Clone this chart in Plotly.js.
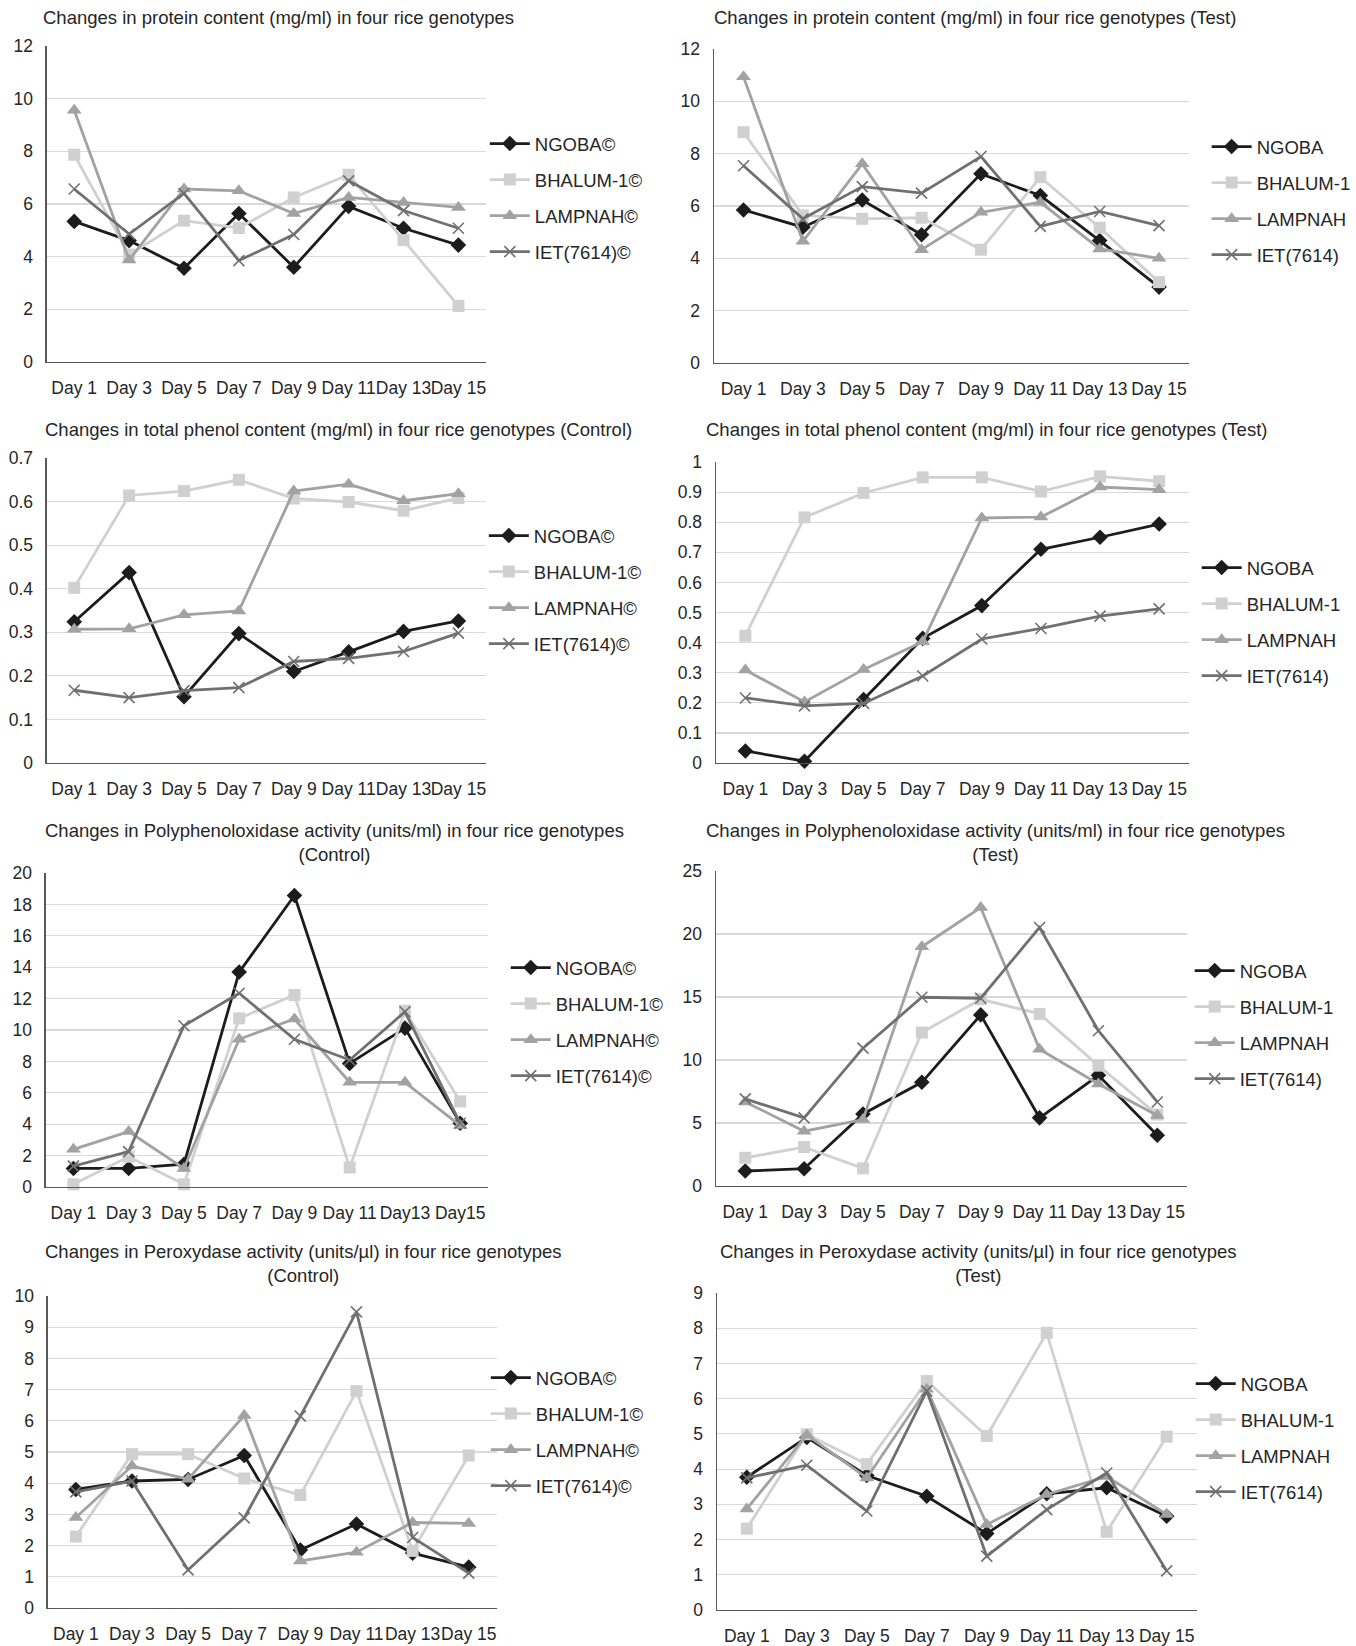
<!DOCTYPE html>
<html>
<head>
<meta charset="utf-8">
<script src="https://cdn.plot.ly/plotly-3.0.1.min.js"></script>
<style>html,body{margin:0;padding:0;background:#fff;}#chart{width:1356px;height:1646px;}</style>
</head>
<body>
<div id="chart"></div>
<script>
// ---------- DATA ----------
const days = ["Day 1","Day 3","Day 5","Day 7","Day 9","Day 11","Day 13","Day 15"];
const daysPPOControl = ["Day 1","Day 3","Day 5","Day 7","Day 9","Day 11","Day13","Day15"];
const namesControl = ["NGOBA©","BHALUM-1©","LAMPNAH©","IET(7614)©"];
const namesTest = ["NGOBA","BHALUM-1","LAMPNAH","IET(7614)"];

const titleProtC = "Changes in protein content (mg/ml) in four rice genotypes";
const titleProtT = "Changes in protein content (mg/ml) in four rice genotypes (Test)";
const titlePhenC = "Changes in total phenol content (mg/ml) in four rice genotypes (Control)";
const titlePhenT = "Changes in total phenol content (mg/ml) in four rice genotypes (Test)";
const titlePPOC = "Changes in Polyphenoloxidase activity (units/ml) in four rice genotypes<br>(Control)";
const titlePPOT = "Changes in Polyphenoloxidase activity (units/ml) in four rice genotypes<br>(Test)";
const titlePODC = "Changes in Peroxydase activity (units/µl) in four rice genotypes<br>(Control)";
const titlePODT = "Changes in Peroxydase activity (units/µl) in four rice genotypes<br>(Test)";

// Protein content – control
const protC_NGOBA   = [5.34,4.61,3.56,5.64,3.60,5.91,5.08,4.44];
const protC_BHALUM  = [7.87,4.08,5.37,5.09,6.25,7.11,4.63,2.13];
const protC_LAMPNAH = [9.56,3.87,6.57,6.50,5.64,6.25,6.06,5.87];
const protC_IET     = [6.57,4.86,6.40,3.85,4.84,6.88,5.75,5.08];
// Protein content – test
const protT_NGOBA   = [5.85,5.19,6.23,4.90,7.23,6.40,4.68,2.90];
const protT_BHALUM  = [8.82,5.64,5.51,5.55,4.33,7.10,5.17,3.09];
const protT_LAMPNAH = [10.94,4.65,7.61,4.33,5.76,6.14,4.36,4.00];
const protT_IET     = [7.54,5.51,6.74,6.49,7.89,5.22,5.79,5.25];
// Total phenol – control
const phenC_NGOBA   = [0.324,0.437,0.152,0.297,0.210,0.255,0.302,0.326];
const phenC_BHALUM  = [0.402,0.614,0.624,0.650,0.607,0.599,0.579,0.608];
const phenC_LAMPNAH = [0.307,0.308,0.340,0.349,0.624,0.640,0.602,0.618];
const phenC_IET     = [0.167,0.150,0.166,0.173,0.233,0.240,0.256,0.298];
// Total phenol – test
const phenT_NGOBA   = [0.040,0.006,0.211,0.414,0.523,0.710,0.750,0.794];
const phenT_BHALUM  = [0.423,0.816,0.897,0.949,0.949,0.902,0.952,0.936];
const phenT_LAMPNAH = [0.309,0.203,0.311,0.403,0.814,0.817,0.917,0.908];
const phenT_IET     = [0.216,0.190,0.198,0.289,0.412,0.447,0.488,0.512];
// Polyphenoloxidase – control
const ppoC_NGOBA   = [1.18,1.18,1.45,13.69,18.57,7.87,10.12,4.06];
const ppoC_BHALUM  = [0.17,1.93,0.17,10.74,12.23,1.24,11.23,5.45];
const ppoC_LAMPNAH = [2.40,3.53,1.18,9.41,10.70,6.67,6.67,3.91];
const ppoC_IET     = [1.33,2.25,10.27,12.34,9.41,8.09,11.16,4.06];
// Polyphenoloxidase – test
const ppoT_NGOBA   = [1.19,1.37,5.72,8.23,13.58,5.41,8.78,4.03];
const ppoT_BHALUM  = [2.24,3.09,1.40,12.18,14.82,13.66,9.55,5.67];
const ppoT_LAMPNAH = [6.67,4.35,5.27,18.99,22.10,10.86,8.10,5.59];
const ppoT_IET     = [6.91,5.41,10.94,14.98,14.90,20.52,12.32,6.67];
// Peroxydase – control
const podC_NGOBA   = [3.80,4.07,4.12,4.89,1.86,2.69,1.76,1.31];
const podC_BHALUM  = [2.29,4.93,4.93,4.15,3.62,6.95,1.83,4.89];
const podC_LAMPNAH = [2.90,4.55,4.13,6.17,1.51,1.79,2.74,2.71];
const podC_IET     = [3.72,4.07,1.22,2.89,6.15,9.49,2.26,1.12];
// Peroxydase – test
const podT_NGOBA   = [3.77,4.90,3.82,3.23,2.17,3.30,3.47,2.66];
const podT_BHALUM  = [2.31,4.99,4.14,6.50,4.94,7.87,2.22,4.92];
const podT_LAMPNAH = [2.87,4.97,3.75,6.27,2.43,3.28,3.79,2.71];
const podT_IET     = [3.75,4.11,2.81,6.22,1.53,2.85,3.89,1.11];

// ---------- LAYOUT HELPERS ----------
const W = 1356, H = 1646;
const px = x => x / W;
const py = y => 1 - y / H;
const FONT = "Liberation Sans, Arial, sans-serif";
const TXT = "#262626";

const styles = [
  {color:"#1c1c1c", symbol:"diamond", size:12, lw:2.8, mline:0},
  {color:"#d0d0d0", symbol:"square", size:12, lw:2.8, mline:0},
  {color:"#a2a2a2", symbol:"triangle-up", size:13, lw:2.8, mline:0},
  {color:"#707070", symbol:"x-thin-open", size:11, lw:2.8, mline:1.6}
];

const panels = [
  {cats:days, names:namesControl, title:titleProtC, series:[protC_NGOBA,protC_BHALUM,protC_LAMPNAH,protC_IET],
   x0:47,x1:488,y0:46,y1:362, ymax:12, dtick:2, tx:280, ty:18, lx:487, ly:125},
  {cats:days, names:namesTest, title:titleProtT, series:[protT_NGOBA,protT_BHALUM,protT_LAMPNAH,protT_IET],
   x0:717,x1:1194,y0:49,y1:363, ymax:12, dtick:2, tx:979, ty:18, lx:1212, ly:128},
  {cats:days, names:namesControl, title:titlePhenC, series:[phenC_NGOBA,phenC_BHALUM,phenC_LAMPNAH,phenC_IET],
   x0:47,x1:488,y0:458,y1:763, ymax:0.7, dtick:0.1, tx:340, ty:429, lx:486, ly:517},
  {cats:days, names:namesTest, title:titlePhenT, series:[phenT_NGOBA,phenT_BHALUM,phenT_LAMPNAH,phenT_IET],
   x0:719,x1:1194,y0:462,y1:763, ymax:1, dtick:0.1, tx:991, ty:429, lx:1202, ly:549},
  {cats:daysPPOControl, names:namesControl, title:titlePPOC, series:[ppoC_NGOBA,ppoC_BHALUM,ppoC_LAMPNAH,ppoC_IET],
   x0:46,x1:490,y0:873,y1:1187, ymax:20, dtick:2, tx:336, ty:842, lx:508, ly:949},
  {cats:days, names:namesTest, title:titlePPOT, series:[ppoT_NGOBA,ppoT_BHALUM,ppoT_LAMPNAH,ppoT_IET],
   x0:719,x1:1192,y0:871,y1:1186, ymax:25, dtick:5, tx:1000, ty:842, lx:1195, ly:952},
  {cats:days, names:namesControl, title:titlePODC, series:[podC_NGOBA,podC_BHALUM,podC_LAMPNAH,podC_IET],
   x0:48,x1:499,y0:1296,y1:1608, ymax:10, dtick:1, tx:305, ty:1263, lx:488, ly:1359},
  {cats:days, names:namesTest, title:titlePODT, series:[podT_NGOBA,podT_BHALUM,podT_LAMPNAH,podT_IET],
   x0:720,x1:1202,y0:1293,y1:1610, ymax:9, dtick:1, tx:983, ty:1263, lx:1196, ly:1365}
];

const data = [];
const layout = {
  width: W, height: H,
  margin: {l:0, r:0, t:0, b:0},
  paper_bgcolor: "#ffffff", plot_bgcolor: "#ffffff",
  font: {family: FONT, size: 17.5, color: TXT},
  showlegend: true,
  annotations: []
};

panels.forEach((p, i) => {
  const n = i + 1;
  const xa = "xaxis" + (n === 1 ? "" : n), ya = "yaxis" + (n === 1 ? "" : n);
  const xr = "x" + (n === 1 ? "" : n), yr = "y" + (n === 1 ? "" : n);
  const lg = "legend" + (n === 1 ? "" : n);
  layout[xa] = {
    domain: [px(p.x0), px(p.x1)], anchor: yr, type: "category",
    range: [-0.5, p.cats.length - 0.5], showgrid: false, zeroline: false,
    showline: true, linecolor: "#595959", linewidth: 1.3, ticks: "", tickangle: 0,
    tickfont: {family: FONT, size: 17.5, color: TXT}, ticklabelstandoff: 10, fixedrange: true
  };
  layout[ya] = {
    domain: [py(p.y1), py(p.y0)], anchor: xr, range: [0, p.ymax], dtick: p.dtick, tick0: 0,
    showgrid: true, gridcolor: "#d9d9d9", gridwidth: 1.2, zeroline: false,
    showline: true, linecolor: "#595959", linewidth: 1.3, ticks: "",
    tickfont: {family: FONT, size: 17.5, color: TXT}, ticklabelstandoff: 9, fixedrange: true
  };
  layout[lg] = {
    x: px(p.lx), y: py(p.ly), xanchor: "left", yanchor: "top",
    bgcolor: "rgba(0,0,0,0)", borderwidth: 0, itemwidth: 40,
    font: {family: FONT, size: 18.5, color: TXT},
    traceorder: "grouped", tracegroupgap: 9, itemclick: false, itemdoubleclick: false
  };
  layout.annotations.push({
    text: p.title, xref: "paper", yref: "paper", x: px(p.tx), y: py(p.ty),
    xanchor: "center", yanchor: "middle", showarrow: false, align: "center",
    font: {family: FONT, size: 18.5, color: TXT}
  });
  p.series.forEach((vals, k) => {
    const s = styles[k];
    data.push({
      type: "scatter", mode: "lines+markers", x: p.cats, y: vals, name: p.names[k],
      xaxis: xr, yaxis: yr, legend: lg, legendgroup: "p" + n + "_" + k,
      line: {color: s.color, width: s.lw},
      marker: {symbol: s.symbol, size: s.size, color: s.color, line: {color: s.color, width: s.mline}},
      cliponaxis: false, hoverinfo: "skip"
    });
  });
});

Plotly.newPlot("chart", data, layout, {displayModeBar: false, staticPlot: true});
</script>
</body>
</html>
